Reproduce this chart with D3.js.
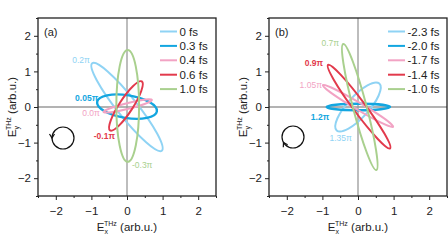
<!DOCTYPE html>
<html><head><meta charset="utf-8">
<script src="https://cdn.jsdelivr.net/npm/d3@7"></script>
<style>body{margin:0;background:#fff}svg{display:block;font-family:"Liberation Sans",Arial,sans-serif}</style>
</head><body><svg id="c" width="448" height="252"></svg>
<script>
// ---- data ----
const colors = ["#8fd3f4", "#13a6e0", "#f2a3c4", "#e23a4c", "#a9d08e"];
const legendA = ["0 fs", "0.3 fs", "0.4 fs", "0.6 fs", "1.0 fs"];
const legendB = ["-2.3 fs", "-2.0 fs", "-1.7 fs", "-1.4 fs", "-1.0 fs"];
// ellipses: centre x, centre y, semi-major, semi-minor, tilt (deg)
const ellA_cx = [0.0, 0.0, 0.02, -0.03, 0.02];
const ellA_cy = [0.0, 0.01, 0.03, 0.03, 0.03];
const ellA_a = [1.57, 0.85, 0.70, 0.82, 1.57];
const ellA_b = [0.28, 0.32, 0.08, 0.19, 0.32];
const ellA_ang = [-51.5, -9, 14, 57, 90];
const ellB_cx = [0.0, 0.01, 0.0, 0.03, 0.05];
const ellB_cy = [0.0, 0.0, 0.03, 0.01, 0.0];
const ellB_a = [0.89, 0.89, 1.15, 1.46, 1.83];
const ellB_b = [0.30, 0.09, 0.10, 0.17, 0.19];
const ellB_ang = [47.7, 0, -30.7, -53.4, -75.3];
// phase labels
const labA_text = ["0.2\u03c0", "0.05\u03c0", "0.0\u03c0", "-0.1\u03c0", "-0.3\u03c0"];
const labA_x = [-1.04, -0.81, -0.76, -0.34, 0.14];
const labA_y = [1.24, 0.17, -0.25, -0.9, -1.71];
const labA_anchor = ["end", "end", "end", "end", "start"];
const labA_color = [0, 1, 2, 3, 4];
const labB_text = ["0.7\u03c0", "0.9\u03c0", "1.05\u03c0", "1.2\u03c0", "1.35\u03c0"];
const labB_x = [-0.53, -0.98, -1.01, -0.81, -0.17];
const labB_y = [1.71, 1.15, 0.53, -0.37, -0.96];
const labB_color = [4, 3, 2, 1, 0];
const ticks = [-2, -1, 0, 1, 2];
const minorTicks = [-2.5, -1.5, -0.5, 0.5, 1.5, 2.5];

const svg = d3.select("#c");

function panel(opts) {
  const g = svg.append("g");
  const x = d3.scaleLinear().domain([-2.5, 2.5]).range([opts.x0, opts.x1]);
  const y = d3.scaleLinear().domain([-2.5, 2.5]).range([196, 18]);
  const k = x(1) - x(0);
  // zero lines
  g.append("line").attr("x1", x(0)).attr("x2", x(0)).attr("y1", y(2.5)).attr("y2", y(-2.5))
    .attr("stroke", "#9a9a9a").attr("stroke-width", 1.3);
  g.append("line").attr("x1", x(-2.5)).attr("x2", x(2.5)).attr("y1", y(0)).attr("y2", y(0))
    .attr("stroke", "#9a9a9a").attr("stroke-width", 1.3);
  // ellipses
  opts.cx.forEach((c, i) => {
    g.append("ellipse")
      .attr("cx", 0).attr("cy", 0)
      .attr("rx", opts.a[i] * k).attr("ry", opts.b[i] * k)
      .attr("transform", `translate(${x(c)},${y(opts.cy[i])}) rotate(${-opts.ang[i]})`)
      .attr("fill", "none").attr("stroke", colors[i])
      .attr("stroke-width", i === 1 ? 2.4 : 2);
  });
  // phase labels
  opts.lt.forEach((t, i) => {
    g.append("text").attr("x", x(opts.lx[i])).attr("y", y(opts.ly[i]))
      .attr("text-anchor", opts.la[i]).attr("font-size", 8.5)
      .attr("font-weight", opts.lc[i] === 1 || opts.lc[i] === 3 ? "bold" : "normal")
      .attr("fill", colors[opts.lc[i]]).text(t);
  });
  // axes
  const xa = g.append("g").attr("transform", `translate(0,196)`)
    .call(d3.axisBottom(x).tickValues(ticks).tickSize(4).tickFormat(d3.format("d")));
  g.append("g").attr("transform", `translate(0,196)`)
    .call(d3.axisBottom(x).tickValues(minorTicks).tickSize(2).tickFormat(""))
    .call(s => s.select(".domain").remove());
  const ya = g.append("g").attr("transform", `translate(${opts.x0},0)`)
    .call(d3.axisLeft(y).tickValues(ticks).tickSize(4).tickFormat(d3.format("d")));
  g.append("g").attr("transform", `translate(${opts.x0},0)`)
    .call(d3.axisLeft(y).tickValues(minorTicks).tickSize(2).tickFormat(""))
    .call(s => s.select(".domain").remove());
  g.selectAll(".tick line").attr("stroke", "#222").attr("stroke-width", 1);
  g.selectAll(".domain").remove();
  xa.selectAll("text").attr("font-size", 11.5).attr("fill", "#222").attr("dy", "1.0em")
    .attr("font-family", "Liberation Sans, Arial, sans-serif");
  ya.selectAll("text").attr("font-size", 11.5).attr("fill", "#222")
    .attr("font-family", "Liberation Sans, Arial, sans-serif");
  // frame
  g.append("rect").attr("x", opts.x0).attr("y", 18).attr("width", opts.x1 - opts.x0).attr("height", 178)
    .attr("fill", "none").attr("stroke", "#222").attr("stroke-width", 1.3);
  // panel letter
  g.append("text").attr("x", opts.x0 + 6).attr("y", 36).attr("font-size", 11).attr("fill", "#222").text(opts.letter);
  // legend
  opts.leg.forEach((t, i) => {
    const yy = 31.5 + i * 14.4;
    g.append("line").attr("x1", opts.lgx).attr("x2", opts.lgx + 17).attr("y1", yy).attr("y2", yy)
      .attr("stroke", colors[i]).attr("stroke-width", 2);
    g.append("text").attr("x", opts.lgx + 19.5).attr("y", yy + 4).attr("font-size", 11.5).attr("fill", "#222").text(t);
  });
  // rotation indicator
  const cc = [opts.circ[0], opts.circ[1]];
  const r = 11;
  g.append("circle").attr("cx", cc[0]).attr("cy", cc[1]).attr("r", r).attr("fill", "none")
    .attr("stroke", "#111").attr("stroke-width", 1.2);
  const ang = opts.arrowAng * Math.PI / 180;
  const px = cc[0] + r * Math.cos(ang), py = cc[1] + r * Math.sin(ang);
  const dir = opts.ccw ? 1 : -1;
  const tx = -Math.sin(ang) * -dir, ty = Math.cos(ang) * -dir;
  const nx = -ty, ny = tx;
  g.append("path")
    .attr("d", `M${px - tx * 4 + nx * 2.5},${py - ty * 4 + ny * 2.5} L${px},${py} L${px - tx * 4 - nx * 2.5},${py - ty * 4 - ny * 2.5}`)
    .attr("fill", "none").attr("stroke", "#111").attr("stroke-width", 1.2);
  // axis titles
  const xt = g.append("text").attr("x", x(0)).attr("y", 231).attr("text-anchor", "middle")
    .attr("font-size", 11.5).attr("fill", "#222");
  xt.append("tspan").text("E");
  xt.append("tspan").attr("font-size", 7).attr("dy", 3).text("x");
  xt.append("tspan").attr("font-size", 7).attr("dx", -4).attr("dy", -8).text("THz");
  xt.append("tspan").attr("dy", 5).text(" (arb.u.)");
  const yt = g.append("text").attr("transform", `translate(${opts.x0 - 22},107) rotate(-90)`)
    .attr("text-anchor", "middle").attr("font-size", 11.5).attr("fill", "#222");
  yt.append("tspan").text("E");
  yt.append("tspan").attr("font-size", 7).attr("dy", 3).text("y");
  yt.append("tspan").attr("font-size", 7).attr("dx", -4).attr("dy", -8).text("THz");
  yt.append("tspan").attr("dy", 5).text(" (arb.u.)");
}

panel({x0: 38, x1: 216, cx: ellA_cx, cy: ellA_cy, a: ellA_a, b: ellA_b, ang: ellA_ang,
  lt: labA_text, lx: labA_x, ly: labA_y, la: labA_anchor, lc: labA_color,
  letter: "(a)", leg: legendA, lgx: 160, circ: [63, 138], arrowAng: 180, ccw: true});
panel({x0: 269, x1: 447, cx: ellB_cx, cy: ellB_cy, a: ellB_a, b: ellB_b, ang: ellB_ang,
  lt: labB_text, lx: labB_x, ly: labB_y, la: labB_text.map(() => "end"), lc: labB_color,
  letter: "(b)", leg: legendB, lgx: 388, circ: [293, 137], arrowAng: 150, ccw: false});
</script></body></html>
